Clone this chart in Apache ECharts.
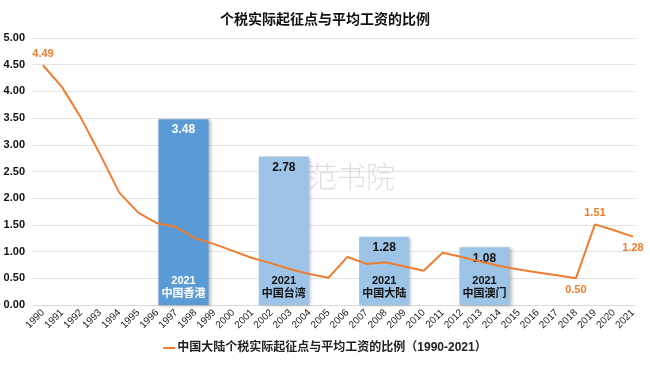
<!DOCTYPE html>
<html>
<head>
<meta charset="utf-8">
<script src="https://cdn.jsdelivr.net/npm/echarts@6/dist/echarts.min.js"></script>
<style>
html,body{margin:0;padding:0;background:#fff;}
#main{width:650px;height:365px;}
</style>
</head>
<body>
<div id="main"></div>
<script>
// ---- data ----
const years = ['1990','1991','1992','1993','1994','1995','1996','1997','1998','1999',
  '2000','2001','2002','2003','2004','2005','2006','2007','2008','2009',
  '2010','2011','2012','2013','2014','2015','2016','2017','2018','2019','2020','2021'];
const mainlandRatio = [4.49, 4.08, 3.50, 2.82, 2.11, 1.73, 1.53, 1.46, 1.25, 1.14,
  1.01, 0.88, 0.78, 0.67, 0.58, 0.51, 0.90, 0.77, 0.80, 0.72,
  0.64, 0.98, 0.90, 0.81, 0.73, 0.665, 0.61, 0.555, 0.50, 1.51, 1.40, 1.28];
const barRegions = ['', '中国香港', '中国台湾', '中国大陆', '中国澳门', ''];
const barValues = [null, 3.48, 2.78, 1.28, 1.08, null];
const barYear = '2021';
const yTicks = [0, 0.5, 1, 1.5, 2, 2.5, 3, 3.5, 4, 4.5, 5];
const lineName = '中国大陆个税实际起征点与平均工资的比例（1990-2021）';
const titleText = '个税实际起征点与平均工资的比例';
const watermark = '海范书院';

// ---- styles ----
const orange = '#ED7D31';
const barColors = ['#5B9BD5', '#5B9BD5', '#9DC3E6', '#9DC3E6', '#9DC3E6', '#9DC3E6'];
const barTextColors = ['#fff', '#fff', '#111', '#111', '#111', '#111'];
const labelled = {0: 'top', 28: 'bottom', 29: 'top', 31: 'bottom'};

const chart = echarts.init(document.getElementById('main'));

const barData = barValues.map((v, i) => ({
  value: v,
  itemStyle: {color: barColors[i]},
  label: {color: barTextColors[i]}
}));
const barOverlay = barValues.map((v, i) => ({
  value: v,
  label: {color: barTextColors[i]}
}));
const lineData = mainlandRatio.map((v, i) => {
  if (labelled[i] !== undefined) {
    return {value: v, label: {show: true, position: labelled[i], distance: 6}};
  }
  return {value: v, label: {show: false}};
});

const font = 'Arial, "Liberation Sans", "Noto Sans CJK SC", sans-serif';

chart.setOption({
  animation: false,
  backgroundColor: '#fff',
  textStyle: {fontFamily: font},
  title: {
    text: titleText,
    left: 'center',
    top: 8,
    textStyle: {fontSize: 14, fontWeight: 'bold', color: '#111', fontFamily: font}
  },
  graphic: [{
    type: 'text',
    left: 279,
    top: 162,
    z: 1,
    style: {
      text: watermark,
      font: '300 29px "Noto Sans CJK SC", sans-serif',
      fill: 'rgba(0,0,0,0.13)'
    }
  }],
  legend: {
    bottom: 6,
    left: 'center',
    icon: 'rect',
    itemWidth: 12,
    itemHeight: 2,
    itemGap: 2,
    textStyle: {fontSize: 12, fontWeight: 'bold', color: '#222', fontFamily: font, padding: [0, 0, 0, -3]},
    data: [lineName]
  },
  grid: [
    {left: 33, right: 15, top: 38, bottom: 60},
    {left: 33.5, right: 7.5, top: 38, bottom: 60}
  ],
  xAxis: [
    {
      type: 'category',
      gridIndex: 0,
      data: barRegions,
      axisLine: {show: true, lineStyle: {color: '#d9d9d9', width: 1}},
      axisTick: {show: false},
      axisLabel: {show: false},
      splitLine: {show: false}
    },
    {
      type: 'category',
      gridIndex: 1,
      data: years,
      boundaryGap: true,
      axisLine: {show: false},
      axisTick: {show: false},
      axisLabel: {
        rotate: 45,
        interval: 0,
        fontSize: 10,
        color: '#222',
        margin: 6,
        fontFamily: font
      }
    }
  ],
  yAxis: [
    {
      type: 'value',
      gridIndex: 0,
      min: 0,
      max: 5,
      interval: 0.5,
      axisLine: {show: false},
      axisTick: {show: false},
      axisLabel: {
        fontSize: 11,
        fontWeight: 'bold',
        color: '#111',
        margin: 8,
        fontFamily: font,
        formatter: v => v.toFixed(2)
      },
      splitLine: {lineStyle: {color: '#e3e3e3', width: 1}}
    },
    {
      type: 'value',
      gridIndex: 1,
      min: 0,
      max: 5,
      interval: 0.5,
      show: false,
      splitLine: {show: false}
    }
  ],
  series: [
    {
      type: 'bar',
      xAxisIndex: 0,
      yAxisIndex: 0,
      data: barData,
      barWidth: '50%',
      z: 2,
      itemStyle: {
        shadowColor: 'rgba(0,0,0,0.25)',
        shadowBlur: 3,
        shadowOffsetX: 2,
        shadowOffsetY: 1
      },
      label: {
        show: true,
        position: 'insideTop',
        distance: 5,
        fontSize: 12,
        fontWeight: 'bold',
        fontFamily: font,
        formatter: p => p.value.toFixed(2)
      }
    },
    {
      type: 'bar',
      xAxisIndex: 0,
      yAxisIndex: 0,
      data: barOverlay,
      barWidth: '50%',
      barGap: '-100%',
      z: 3,
      itemStyle: {color: 'rgba(0,0,0,0)'},
      label: {
        show: true,
        position: 'insideBottom',
        distance: 5,
        fontSize: 11,
        fontWeight: 'bold',
        lineHeight: 13,
        fontFamily: font,
        formatter: p => barYear + '\n' + p.name
      },
      silent: true
    },
    {
      name: lineName,
      type: 'line',
      xAxisIndex: 1,
      yAxisIndex: 1,
      data: lineData,
      showSymbol: true,
      symbol: 'circle',
      symbolSize: 0,
      z: 4,
      lineStyle: {color: orange, width: 2},
      itemStyle: {color: orange},
      label: {
        color: orange,
        fontSize: 11,
        fontWeight: 'bold',
        fontFamily: font,
        formatter: p => p.value.toFixed(2)
      }
    }
  ]
});
</script>
</body>
</html>
